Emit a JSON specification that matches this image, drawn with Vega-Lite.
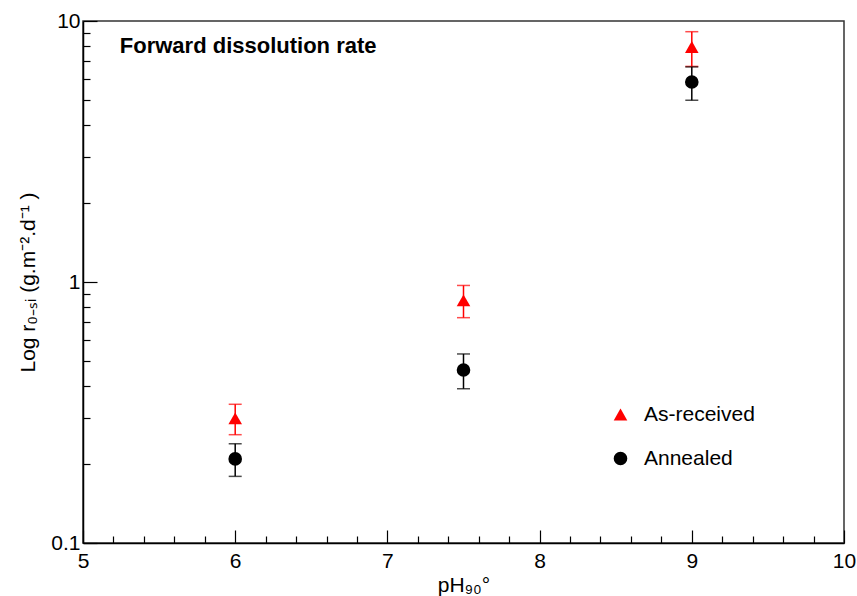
{
  "$schema": "https://vega.github.io/schema/vega-lite/v6.json",
  "autosize": {"type": "none"},
  "width": 761,
  "height": 522,
  "padding": {"left": 83, "top": 21, "right": 13, "bottom": 53},
  "background": "white",
  "config": {
    "font": "Liberation Sans",
    "view": {"stroke": "#333", "strokeWidth": 1.5},
    "axis": {"grid": false, "labelFlush": false, "domainColor": "black", "tickColor": "black", "labelColor": "black", "titleColor": "black", "labelFont": "Liberation Sans", "titleFont": "Liberation Sans", "labelFontSize": 21, "titleFontSize": 21, "titleFontWeight": "normal", "domainWidth": 1.5, "tickWidth": 1.2}
  },
  "title": {"text": "Forward dissolution rate", "anchor": "start", "orient": "top", "font": "Liberation Sans", "fontSize": 22, "fontWeight": "bold", "color": "black", "dx": 102, "dy": 48, "offset": 0},
  "data": {"values": [
    {"pH": 6, "series": "As-received", "rate": 0.30, "lo": 0.26, "hi": 0.34},
    {"pH": 6, "series": "Annealed", "rate": 0.21, "lo": 0.18, "hi": 0.24},
    {"pH": 7.5, "series": "As-received", "rate": 0.85, "lo": 0.73, "hi": 0.97},
    {"pH": 7.5, "series": "Annealed", "rate": 0.46, "lo": 0.39, "hi": 0.53},
    {"pH": 9, "series": "As-received", "rate": 7.95, "lo": 6.7, "hi": 9.1},
    {"pH": 9, "series": "Annealed", "rate": 5.84, "lo": 4.97, "hi": 6.67}
  ]},
  "resolve": {"axis": {"x": "independent", "y": "independent"}},
  "layer": [
    {
      "mark": {"type": "rule", "strokeWidth": 1.5},
      "encoding": {
        "x": {"field": "pH", "type": "quantitative", "scale": {"domain": [5, 10], "nice": false, "zero": false},
              "axis": {"orient": "bottom", "values": [5.2,5.4,5.6,5.8,6.2,6.4,6.6,6.8,7.2,7.4,7.6,7.8,8.2,8.4,8.6,8.8,9.2,9.4,9.6,9.8], "labels": false, "domain": false, "tickSize": -7, "title": null}},
        "y": {"field": "lo", "type": "quantitative", "scale": {"type": "log", "domain": [0.1, 10], "nice": false},
              "axis": {"orient": "left", "values": [0.2,0.3,0.4,0.5,0.6,0.7,0.8,0.9,2,3,4,5,6,7,8,9], "labels": false, "domain": false, "tickSize": -7, "title": null}},
        "y2": {"field": "hi"},
        "color": {"condition": {"test": "datum.series === 'Annealed'", "value": "#000000"}, "value": "#ff0000"}
      }
    },
    {
      "mark": {"type": "tick", "orient": "horizontal", "size": 13, "thickness": 1.5},
      "encoding": {
        "x": {"field": "pH", "type": "quantitative", "axis": null},
        "y": {"field": "lo", "type": "quantitative", "axis": null},
        "color": {"condition": {"test": "datum.series === 'Annealed'", "value": "#000000"}, "value": "#ff0000"}
      }
    },
    {
      "mark": {"type": "tick", "orient": "horizontal", "size": 13, "thickness": 1.5},
      "encoding": {
        "x": {"field": "pH", "type": "quantitative", "axis": null},
        "y": {"field": "hi", "type": "quantitative", "axis": null},
        "color": {"condition": {"test": "datum.series === 'Annealed'", "value": "#000000"}, "value": "#ff0000"}
      }
    },
    {
      "mark": {"type": "point", "filled": true, "opacity": 1},
      "encoding": {
        "x": {"field": "pH", "type": "quantitative",
              "axis": {"orient": "bottom", "values": [5,6,7,8,9,10], "format": "d", "tickSize": -13, "labelPadding": 20, "title": "pH₉₀°", "titlePadding": 3}},
        "y": {"field": "rate", "type": "quantitative",
              "axis": {"orient": "left", "values": [0.1, 1, 10], "format": "~g", "tickSize": -14, "labelPadding": 17, "title": "Log r₀₋ₛᵢ (g.m⁻².d⁻¹ )", "titlePadding": 12}},
        "color": {"field": "series", "type": "nominal",
                  "scale": {"domain": ["As-received", "Annealed"], "range": ["#ff0000", "#000000"]},
                  "legend": {"title": null, "orient": "none", "legendX": 527, "legendY": 383, "labelFontSize": 21, "labelFont": "Liberation Sans", "labelColor": "black", "symbolSize": 185, "labelOffset": 13, "rowPadding": 22, "symbolStrokeWidth": 0}},
        "shape": {"field": "series", "type": "nominal",
                  "scale": {"domain": ["As-received", "Annealed"], "range": ["triangle-up", "circle"]},
                  "legend": {"title": null, "orient": "none", "legendX": 527, "legendY": 383, "labelFontSize": 21, "labelFont": "Liberation Sans", "labelColor": "black", "symbolSize": 185, "labelOffset": 13, "rowPadding": 22, "symbolStrokeWidth": 0}},
        "size": {"value": 185}
      }
    }
  ]
}
